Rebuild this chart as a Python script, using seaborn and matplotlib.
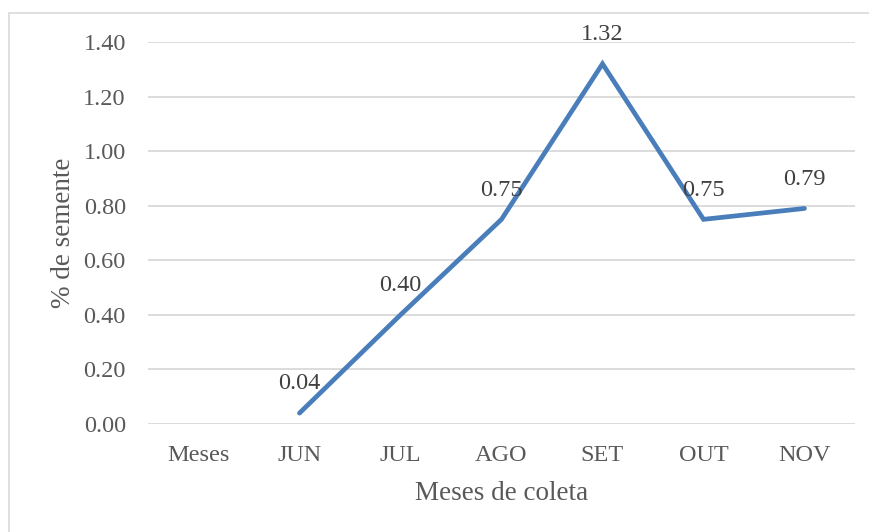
import matplotlib
matplotlib.use("Agg")
import matplotlib.pyplot as plt
from matplotlib.patches import Rectangle
import seaborn as sns
import pandas as pd
import numpy as np

# Percentage of seed per collection month
meses = ["Meses", "JUN", "JUL", "AGO", "SET", "OUT", "NOV"]
semente = [np.nan, 0.04, 0.40, 0.75, 1.32, 0.75, 0.79]
y_ticks = [0.0, 0.2, 0.4, 0.6, 0.8, 1.0, 1.2, 1.4]

df = pd.DataFrame({"mes": meses, "semente": semente})
df["pos"] = np.arange(len(meses))

sns.set_theme(style="white")
plt.rcParams["font.family"] = ["Liberation Serif", "DejaVu Serif"]

TEXT = "#595959"
LINE = "#4A7EBB"
GRID = "#D9D9D9"

W, H = 869, 532
fig = plt.figure(figsize=(W / 100, H / 100), dpi=100)
ax = fig.add_axes([148 / W, (H - 424) / H, (855 - 148) / W, (424 - 42) / H])

# outer chart frame
fig.patches.append(Rectangle((9 / W, -0.1), 1.2, 1.1 - 13 / H,
                             transform=fig.transFigure, fill=False,
                             edgecolor=GRID, linewidth=1.2, zorder=0))

sns.lineplot(data=df.dropna(), x="pos", y="semente", ax=ax, color=LINE,
             linewidth=3.4, solid_capstyle="round", solid_joinstyle="miter",
             zorder=3)

ax.set_xlim(-0.5, len(meses) - 0.5)
ax.set_ylim(0, 1.4)
ax.set_yticks(y_ticks)
ax.set_yticklabels([f"{v:.2f}" for v in y_ticks])
ax.set_xticks(df["pos"])
ax.set_xticklabels(meses)
ax.grid(axis="y", color=GRID, linewidth=1.3)
ax.grid(axis="x", visible=False)
for s in ax.spines.values():
    s.set_visible(False)
ax.tick_params(axis="y", length=0, pad=16, labelsize=17.5, labelcolor=TEXT)
ax.tick_params(axis="x", length=0, pad=15, labelsize=17.5, labelcolor=TEXT)

ax.set_xlabel("Meses de coleta", fontsize=19.5, color=TEXT, labelpad=11)
ax.set_ylabel("% de semente", fontsize=19.5, color=TEXT, labelpad=5)

for p, v in zip(df["pos"], df["semente"]):
    if np.isnan(v):
        continue
    ax.annotate(f"{v:.2f}", (p, v), xytext=(0, 17), textcoords="offset points",
                ha="center", va="baseline", fontsize=17.5, color="#404040",
                zorder=4)

fig.savefig("out.png", dpi=100)
